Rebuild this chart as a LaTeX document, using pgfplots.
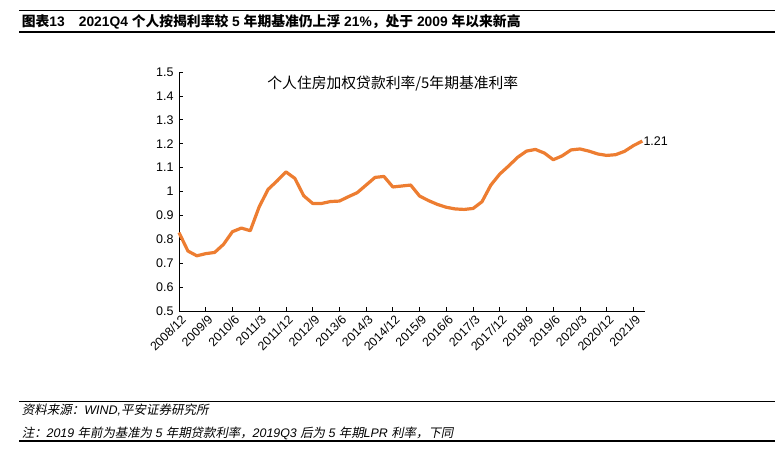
\documentclass[border=0pt]{standalone}
\usepackage{pgfplots}
\pgfplotsset{compat=1.18}
\usepackage{fontspec}
\setmainfont{Liberation Sans}
\newfontfamily\cjk{Noto Sans CJK SC}
\newfontfamily\cjki{Noto Sans CJK SC}[FakeSlant=0.2]
\definecolor{lineorange}{RGB}{237,125,49}
\begin{document}
\begin{tikzpicture}
\useasboundingbox (0,0) rectangle (784pt,451pt);
% title bar
\draw[line width=0.8pt] (19pt,440.3pt) -- (775pt,440.3pt);
\draw[line width=1.2pt] (19pt,419pt) -- (775pt,419pt);
\node[anchor=base west, inner sep=0] at (21.7pt,424pt) {\fontsize{13.8}{13.8}\selectfont\bfseries{\cjk\bfseries 图表}13\hspace{14pt}2021Q4 {\cjk\bfseries 个人按揭利率较} 5 {\cjk\bfseries 年期基准仍上浮} 21\%{\cjk\bfseries ，处于} 2009 {\cjk\bfseries 年以来新高}};
% footer
\draw[line width=0.8pt] (19pt,50pt) -- (775pt,50pt);
\draw[line width=1.2pt] (19pt,10pt) -- (775pt,10pt);
\node[anchor=base west, inner sep=0] at (21.7pt,37pt) {\fontsize{12.5}{12.5}\selectfont{\cjki 资料来源：}\textit{WIND,}{\cjki 平安证券研究所}};
\node[anchor=base west, inner sep=0] at (21.7pt,14pt) {\fontsize{12.4}{12.4}\selectfont{\cjki 注：}\textit{2019 }{\cjki 年前为基准为}\textit{ 5 }{\cjki 年期贷款利率，}\textit{2019Q3 }{\cjki 后为}\textit{ 5 }{\cjki 年期}\textit{LPR }{\cjki 利率，下同}};
\begin{axis}[
  at={(179pt,140pt)}, anchor=south west,
  scale only axis, width=466pt, height=239pt,
  xmin=0, xmax=52.3, ymin=0.5, ymax=1.5,
  axis x line*=bottom, axis y line*=left,
  axis line style={-, line width=0.9pt, black},
  tick align=inside, major tick length=4pt,
  tick style={black, line width=0.8pt},
  ytick={0.5,0.6,0.7,0.8,0.9,1,1.1,1.2,1.3,1.4,1.5},
  yticklabels={0.5,0.6,0.7,0.8,0.9,1,1.1,1.2,1.3,1.4,1.5},
  xtick={0,3,6,9,12,15,18,21,24,27,30,33,36,39,42,45,48,51},
  xticklabels={2008/12,2009/9,2010/6,2011/3,2011/12,2012/9,2013/6,2014/3,2014/12,2015/9,2016/6,2017/3,2017/12,2018/9,2019/6,2020/3,2020/12,2021/9},
  x tick label style={rotate=45, anchor=north east, font=\fontsize{12.3}{12.3}\selectfont, inner sep=1pt, yshift=-2pt},
  y tick label style={font=\fontsize{12.5}{12.5}\selectfont, xshift=-2pt},
  clip=false,
]
\addplot[lineorange, line width=3.2pt, line join=round, no markers] table[x=q, y=v] {
q v
0 0.828
1 0.751
2 0.731
3 0.740
4 0.745
5 0.779
6 0.832
7 0.847
8 0.836
9 0.936
10 1.009
11 1.044
12 1.082
13 1.055
14 0.982
15 0.950
16 0.950
17 0.958
18 0.960
19 0.978
20 0.995
21 1.027
22 1.059
23 1.063
24 1.019
25 1.023
26 1.027
27 0.981
28 0.962
29 0.946
30 0.934
31 0.927
32 0.925
33 0.929
34 0.957
35 1.027
36 1.073
37 1.107
38 1.143
39 1.169
40 1.176
41 1.161
42 1.133
43 1.149
44 1.174
45 1.178
46 1.169
47 1.157
48 1.151
49 1.154
50 1.168
51 1.192
52 1.211
};
\node[anchor=west, inner sep=1pt, font=\fontsize{12.5}{12.5}\selectfont] at (axis cs:52,1.211) {1.21};
\node[font=\fontsize{14.8}{14.8}\selectfont] at (axis cs:24,1.452) {\cjk 个人住房加权贷款利率/5年期基准利率};
\end{axis}
\end{tikzpicture}
\end{document}
